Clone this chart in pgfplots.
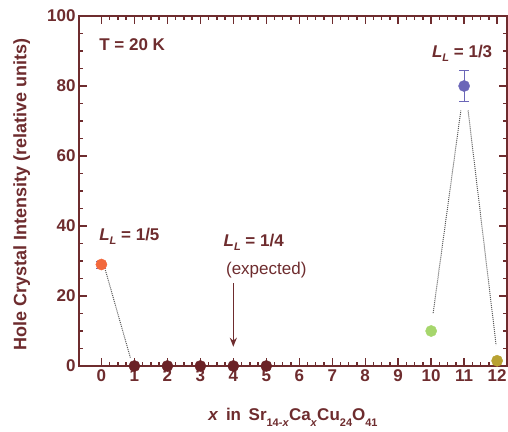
\documentclass[border=0pt]{standalone}
\usepackage{pgfplots}
\pgfplotsset{compat=1.18}
\usetikzlibrary{arrows.meta}
\usepackage{fontspec}
\setmainfont{Liberation Sans}
\definecolor{maroon}{HTML}{6E2C2E}
\definecolor{ptdark}{HTML}{6B2226}
\definecolor{ptorange}{HTML}{F2683C}
\definecolor{ptgreen}{HTML}{A6D66C}
\definecolor{ptblue}{HTML}{6B66B8}
\definecolor{ptolive}{HTML}{B8A232}
\newcommand{\bigf}{\fontsize{17}{19}\selectfont}
\newcommand{\subf}{\fontsize{11}{11}\selectfont}
\newcommand{\LL}{\textit{L}\raisebox{-0.45ex}{\subf\textit{L}}}
\pgfplotsset{
    tick style={draw=maroon, line width=1.4pt},
    major tick length=8pt,
    minor tick length=4pt,
}
\begin{document}
\begin{tikzpicture}
\begin{axis}[
    scale only axis,
    width=428pt, height=350pt,
    xmin=-0.68, xmax=12.3,
    ymin=0, ymax=100,
    xtick={0,1,2,3,4,5,6,7,8,9,10,11,12},
    xticklabels={0,1,2,3,4,5,6,7,8,9,10,11,12},
    ytick={0,20,40,60,80,100},
    yticklabels={0,20,40,60,80,100},
    minor x tick num=3,
    minor y tick num=3,
    every outer x axis line/.append style={maroon, line width=1.5pt},
    every outer y axis line/.append style={maroon, line width=1.5pt},
    tick label style={font=\bigf\bfseries, text=maroon},
    label style={font=\bigf\bfseries, text=maroon},
    xlabel={\textit{x}\ \,in\ \,Sr\raisebox{-0.7ex}{\subf 14-\textit{x}}Ca\raisebox{-0.7ex}{\subf\textit{x}}Cu\raisebox{-0.7ex}{\subf 24}O\raisebox{-0.7ex}{\subf 41}},
    xlabel style={at={(axis description cs:0.5,0)}, anchor=base, yshift=-54pt},
    ylabel={Hole Crystal Intensity (relative units)},
    ylabel style={at={(axis description cs:-0.134,0.49)}, anchor=center, font=\fontsize{18}{20}\selectfont\bfseries},
]
% guide lines
\addplot[densely dotted, line width=1pt, black!65, forget plot] coordinates {(0.12,27.4) (0.88,2.3)};
\addplot[densely dotted, line width=1pt, black!65, forget plot] coordinates {(10.06,15.1) (10.9,73)};
\addplot[densely dotted, line width=1pt, black!65, forget plot] coordinates {(11.12,73) (11.97,6)};
% data
\addplot[only marks, mark=*, mark size=5.6pt, ptdark] coordinates {(1,0) (2,0) (3,0) (4,0) (5,0)};
\addplot[only marks, mark=*, mark size=5.6pt, ptorange,
    error bars/.cd, y dir=both, y explicit,
    error bar style={ptblue, line width=1pt}, error mark options={ptblue, line width=1pt, mark size=5pt, rotate=90}]
    coordinates {(0,29) +- (0,1)};
\addplot[only marks, mark=*, mark size=5.6pt, ptgreen] coordinates {(10,10)};
\addplot[only marks, mark=*, mark size=5.6pt, ptblue,
    error bars/.cd, y dir=both, y explicit,
    error bar style={ptblue, line width=1.2pt}, error mark options={ptblue, line width=1.2pt, mark size=5pt, rotate=90}]
    coordinates {(11,80) +- (0,4.5)};
\addplot[only marks, mark=*, mark size=5.6pt, ptolive] coordinates {(12,1.5)};
% annotations
\node[anchor=west, font=\bigf\bfseries, text=maroon] at (axis cs:-0.17,91.7) {T = 20 K};
\node[anchor=west, font=\bigf\bfseries, text=maroon] at (axis cs:-0.17,37) {\LL\ = 1/5};
\node[anchor=west, font=\bigf\bfseries, text=maroon] at (axis cs:3.6,35.4) {\LL\ = 1/4};
\node[font=\bigf, text=maroon] at (axis cs:5.0,27.5) {(expected)};
\node[font=\bigf\bfseries, text=maroon] at (axis cs:10.94,89.4) {\LL\ = 1/3};
\draw[maroon, line width=1.6pt, -{Stealth[length=9pt, width=7pt]}] (axis cs:4,23.7) -- (axis cs:4,5.5);
\coordinate (bl) at (rel axis cs:0,0);
\coordinate (tr) at (rel axis cs:1,1);
\end{axis}
\pgfresetboundingbox
\path (bl) +(-79pt,-65pt) (tr) +(1pt,16pt);
\end{tikzpicture}
\end{document}
